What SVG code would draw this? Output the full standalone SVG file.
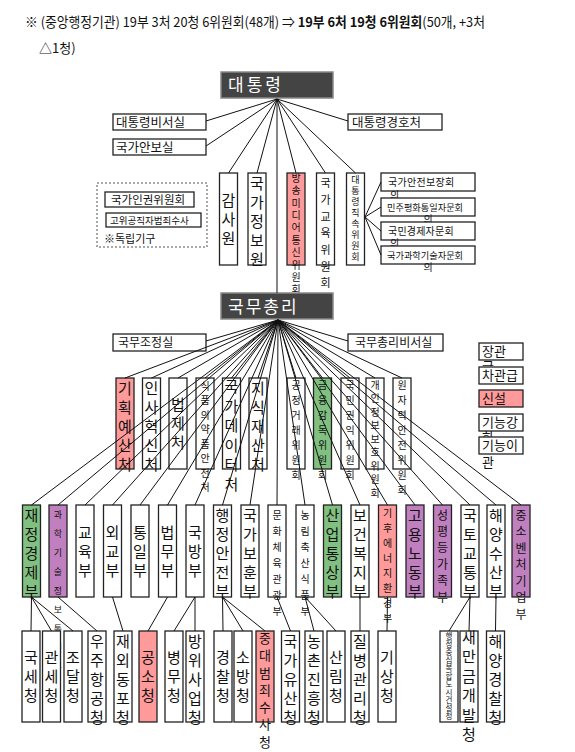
<svg xmlns="http://www.w3.org/2000/svg" width="575" height="752" viewBox="0 0 575 752">
<style>
text{font-family:"Noto Sans CJK KR","Noto Sans",sans-serif;fill:#111}
.b{fill:#fff;stroke:#222;stroke-width:1.3}
.pk{fill:#ff9a9a}
.gr{fill:#80c080}
.pu{fill:#c080c0}
.dk{fill:#444;stroke:#888;stroke-width:1.5}
.w{fill:#fff}
.v{writing-mode:vertical-rl;text-orientation:upright;font-size:15px;letter-spacing:4px}
.c{text-anchor:middle}
.h{font-size:12.5px}
.lg{font-size:13px}
#connectors line{stroke:#111;stroke-width:1}
</style>
<g id="header">
<text x="25" y="27" font-size="13.5" textLength="460" lengthAdjust="spacingAndGlyphs">※ (중앙행정기관) 19부 3처 20청 6위원회(48개) ⇒ <tspan font-weight="bold">19부 6처 19청 6위원회</tspan>(50개, +3처</text>
<text x="39" y="53" font-size="13">△1청)</text>
</g>
<g id="president"><rect class="dk" x="221" y="72" width="112" height="26"/><text class="w" x="228" y="91" font-size="17" letter-spacing="3">대통령</text></g>
<g id="n-bisuh"><rect class="b" x="113" y="114" width="93" height="16"/><text class="h" x="116" y="127">대통령비서실</text></g>
<g id="n-anbo"><rect class="b" x="113" y="139" width="93" height="16"/><text class="h" x="116" y="152">국가안보실</text></g>
<g id="n-gyeongho"><rect class="b" x="348" y="114" width="94" height="16"/><text class="h" x="352" y="127">대통령경호처</text></g>
<g id="n-indep"><rect x="97" y="183" width="110" height="64" fill="none" stroke="#555" stroke-dasharray="2,2"/>
<rect class="b" x="105" y="192" width="89" height="15"/><text x="111" y="204" font-size="11.5">국가인권위원회</text>
<rect class="b" x="106" y="213" width="95" height="14"/><text x="110" y="224" font-size="9.5">고위공직자범죄수사</text>
<text x="104" y="243" font-size="11">※독립기구</text></g>
<g id="n-gamsa"><rect class="b" x="219.5" y="173" width="18" height="92"/><text class="v c" x="228.5" y="221">감사원</text></g>
<g id="n-gukjeong"><rect class="b" x="248" y="173" width="18" height="92"/><text class="v" x="257" y="175.5">국가정보원</text></g>
<g id="n-bangtong"><rect class="b pk" x="287" y="173" width="18" height="92"/><text class="v" x="296" y="173" style="font-size:10px;letter-spacing:2.4px">방송미디어통신위원회</text></g>
<g id="n-gukgyo"><rect class="b" x="316.5" y="173" width="18" height="92"/><text class="v" x="325.5" y="177.5" style="font-size:11px;letter-spacing:5.7px">국가교육위원회</text></g>
<g id="n-direct"><rect class="b" x="346.5" y="173" width="18" height="92"/><text class="v" x="355.5" y="175.5" style="font-size:9px;letter-spacing:2px">대통령직속위원회</text></g>
<g id="n-c1"><rect class="b" x="381" y="173" width="94" height="18"/><text x="388" y="186" font-size="10" letter-spacing="0.3">국가안전보장회</text><text x="390" y="199" font-size="10">의</text></g>
<g id="n-c2"><rect class="b" x="381" y="198" width="94" height="18"/><text x="387" y="211" font-size="9.2">민주평화통일자문회</text><text x="428" y="223" font-size="10" class="c">의</text></g>
<g id="n-c3"><rect class="b" x="381" y="222" width="94" height="18"/><text x="388" y="235" font-size="10" letter-spacing="0.2">국민경제자문회</text><text x="390" y="247" font-size="10">의</text></g>
<g id="n-c4"><rect class="b" x="381" y="246" width="94" height="18"/><text x="387" y="259" font-size="9.2">국가과학기술자문회</text><text x="428" y="271" font-size="10" class="c">의</text></g>
<g id="pm"><rect class="dk" x="221" y="293" width="112" height="26"/><text class="w" x="228" y="313" font-size="17" letter-spacing="2">국무총리</text></g>
<g id="n-josa"><rect class="b" x="113" y="334" width="93" height="17"/><text x="118" y="347" font-size="12">국무조정실</text></g>
<g id="n-pmbisuh"><rect class="b" x="348" y="334" width="95" height="17"/><text x="355" y="347" font-size="12">국무총리비서실</text></g>
<g id="legend">
<rect class="b" x="479" y="343" width="44" height="17"/><text class="lg" x="482" y="356">장관</text><text class="lg" x="482" y="371">급</text>
<rect class="b" x="479" y="367" width="44" height="17"/><text class="lg" x="482" y="380">차관급</text>
<rect class="b pk" x="479" y="390" width="44" height="17"/><text class="lg" x="482" y="403">신설</text>
<rect class="b" x="479" y="414" width="44" height="17"/><text class="lg" x="482" y="427">기능강</text><text class="lg" x="482" y="442">화</text>
<rect class="b" x="479" y="437" width="44" height="17"/><text class="lg" x="482" y="450">기능이</text><text class="lg" x="482" y="467">관</text>
</g>
<g id="row2">
<g id="n-gihoek"><rect class="b pk" x="116" y="378" width="18" height="91"/><text class="v" x="125" y="380.5">기획예산처</text></g>
<g id="n-insa"><rect class="b" x="142.5" y="378" width="18" height="91"/><text class="v" x="151.5" y="380.5">인사혁신처</text></g>
<g id="n-beopje"><rect class="b" x="169" y="378" width="18" height="91"/><text class="v c" x="178" y="425.5">법제처</text></g>
<g id="n-sikyak"><rect class="b" x="196" y="378" width="18" height="91"/><text class="v" x="205" y="381" style="font-size:10px;letter-spacing:4.5px">식품의약품안전처</text></g>
<g id="n-data"><rect class="b" x="222.5" y="378" width="18" height="91"/><text class="v" x="231.5" y="379" style="letter-spacing:4.5px">국가데이터처</text></g>
<g id="n-jisik"><rect class="b" x="249" y="378" width="18" height="91"/><text class="v" x="258" y="380.5">지식재산처</text></g>
<g id="n-gongjeong"><rect class="b" x="287" y="378" width="18" height="91"/><text class="v" x="296" y="380" style="font-size:10px;letter-spacing:5px">공정거래위원회</text></g>
<g id="n-geumgam"><rect class="b gr" x="313.5" y="378" width="18" height="91"/><text class="v" x="322.5" y="380" style="font-size:10px;letter-spacing:5px">금융감독위원회</text></g>
<g id="n-gwonik"><rect class="b" x="341" y="378" width="18" height="91"/><text class="v" x="350" y="380" style="font-size:10px;letter-spacing:5px">국민권익위원회</text></g>
<g id="n-gaein"><rect class="b" x="366" y="378" width="18" height="91"/><text class="v" x="375" y="380" style="font-size:10px;letter-spacing:3.5px">개인정보보호위원회</text></g>
<g id="n-wonan"><rect class="b" x="393" y="378" width="18" height="91"/><text class="v" x="402" y="380" style="font-size:10px;letter-spacing:5px">원자력안전위원회</text></g>
</g>
<g id="row3">
<g id="n-jaegyeong"><rect class="b gr" x="22.5" y="505" width="18" height="92"/><text class="v" x="31.5" y="507.5">재정경제부</text></g>
<g id="n-gwagi"><rect class="b pu" x="49" y="505" width="18" height="92"/><text class="v" x="58" y="510.5" style="font-size:9px;letter-spacing:10px">과학기술정보통신부</text></g>
<g id="n-gyoyuk"><rect class="b" x="76" y="505" width="18" height="92"/><text class="v c" x="85" y="553">교육부</text></g>
<g id="n-oegyo"><rect class="b" x="103.5" y="505" width="18" height="92"/><text class="v c" x="112.5" y="553">외교부</text></g>
<g id="n-tongil"><rect class="b" x="131" y="505" width="18" height="92"/><text class="v c" x="140" y="553">통일부</text></g>
<g id="n-beopmu"><rect class="b" x="158.5" y="505" width="18" height="92"/><text class="v c" x="167.5" y="553">법무부</text></g>
<g id="n-gukbang"><rect class="b" x="186" y="505" width="18" height="92"/><text class="v c" x="195" y="553">국방부</text></g>
<g id="n-haengan"><rect class="b" x="213.5" y="505" width="18" height="92"/><text class="v" x="222.5" y="507.5">행정안전부</text></g>
<g id="n-bohun"><rect class="b" x="241" y="505" width="18" height="92"/><text class="v" x="250" y="507.5">국가보훈부</text></g>
<g id="n-munche"><rect class="b" x="268" y="505" width="18" height="92"/><text class="v" x="277" y="510" style="font-size:10px;letter-spacing:6px">문화체육관광부</text></g>
<g id="n-nongrim"><rect class="b" x="296" y="505" width="18" height="92"/><text class="v" x="305" y="510" style="font-size:10px;letter-spacing:6px">농림축산식품부</text></g>
<g id="n-saneop"><rect class="b gr" x="323.5" y="505" width="18" height="92"/><text class="v" x="332.5" y="507.5">산업통상부</text></g>
<g id="n-bokji"><rect class="b" x="351" y="505" width="18" height="92"/><text class="v" x="360" y="507.5">보건복지부</text></g>
<g id="n-gihu"><rect class="b pk" x="378.5" y="505" width="18" height="92"/><text class="v" x="387.5" y="508" style="font-size:10px;letter-spacing:5px">기후에너지환경부</text></g>
<g id="n-goyong"><rect class="b pu" x="406" y="505" width="18" height="92"/><text class="v" x="415" y="507.5">고용노동부</text></g>
<g id="n-seongpyeong"><rect class="b pu" x="433.5" y="505" width="18" height="92"/><text class="v" x="442.5" y="509" style="font-size:12px;letter-spacing:4.4px">성평등가족부</text></g>
<g id="n-gukto"><rect class="b" x="461" y="505" width="18" height="92"/><text class="v" x="470" y="507.5">국토교통부</text></g>
<g id="n-haesu"><rect class="b" x="487" y="505" width="18" height="92"/><text class="v" x="496" y="507.5">해양수산부</text></g>
<g id="n-jungso"><rect class="b pu" x="512" y="505" width="18" height="92"/><text class="v" x="521" y="509" style="font-size:12px;letter-spacing:4.5px">중소벤처기업부</text></g>
</g>
<g id="row4">
<g id="n-gukse"><rect class="b" x="22" y="631" width="18" height="91"/><text class="v c" x="31" y="678.5">국세청</text></g>
<g id="n-gwanse"><rect class="b" x="42.5" y="631" width="18" height="91"/><text class="v c" x="51.5" y="678.5">관세청</text></g>
<g id="n-jodal"><rect class="b" x="64" y="631" width="18" height="91"/><text class="v c" x="73" y="678.5">조달청</text></g>
<g id="n-ujuhanggong"><rect class="b" x="88" y="631" width="18" height="91"/><text class="v" x="97" y="633.5">우주항공청</text></g>
<g id="n-jaeoe"><rect class="b" x="114" y="631" width="18" height="91"/><text class="v" x="123" y="633.5">재외동포청</text></g>
<g id="n-gongso"><rect class="b pk" x="139" y="631" width="18" height="91"/><text class="v c" x="148" y="678.5">공소청</text></g>
<g id="n-byeongmu"><rect class="b" x="165" y="631" width="18" height="91"/><text class="v c" x="174" y="678.5">병무청</text></g>
<g id="n-bangwi"><rect class="b" x="186" y="631" width="18" height="91"/><text class="v" x="195" y="633.5">방위사업청</text></g>
<g id="n-gyeongchal"><rect class="b" x="214" y="631" width="18" height="91"/><text class="v c" x="223" y="678.5">경찰청</text></g>
<g id="n-sobang"><rect class="b" x="234" y="631" width="18" height="91"/><text class="v c" x="243" y="678.5">소방청</text></g>
<g id="n-jungdae"><rect class="b pk" x="256" y="631" width="18" height="91"/><text class="v" x="265" y="631.5" style="font-size:13px;letter-spacing:4.3px">중대범죄수사청</text></g>
<g id="n-yusan"><rect class="b" x="281.5" y="631" width="18" height="91"/><text class="v" x="290.5" y="633.5">국가유산청</text></g>
<g id="n-nongchon"><rect class="b" x="305" y="631" width="18" height="91"/><text class="v" x="314" y="633.5">농촌진흥청</text></g>
<g id="n-sanrim"><rect class="b" x="327" y="631" width="18" height="91"/><text class="v c" x="336" y="678.5">산림청</text></g>
<g id="n-jilbyeong"><rect class="b" x="351" y="631" width="18" height="91"/><text class="v" x="360" y="633.5">질병관리청</text></g>
<g id="n-gisang"><rect class="b" x="378" y="631" width="18" height="91"/><text class="v c" x="387" y="678.5">기상청</text></g>
<g id="n-haengbok"><rect class="b" x="440" y="631" width="18" height="91"/><text class="v" x="449" y="632" style="font-size:7.5px;letter-spacing:0.5px">행정중심복합도시건설청</text></g>
<g id="n-saemangeum"><rect class="b" x="460" y="631" width="18" height="91"/><text class="v" x="469" y="629.5" style="letter-spacing:4.5px">새만금개발청</text></g>
<g id="n-haegyeong"><rect class="b" x="486.5" y="631" width="18" height="91"/><text class="v" x="495.5" y="633.5">해양경찰청</text></g>
</g>
<g id="connectors">
<line x1="277" y1="99" x2="277" y2="293"/>
<line x1="277" y1="99" x2="206" y2="121"/>
<line x1="277" y1="99" x2="206" y2="146"/>
<line x1="277" y1="99" x2="348" y2="121"/>
<line x1="277" y1="99" x2="228.5" y2="173"/>
<line x1="277" y1="99" x2="257" y2="173"/>
<line x1="277" y1="99" x2="296" y2="173"/>
<line x1="277" y1="99" x2="325.5" y2="173"/>
<line x1="277" y1="99" x2="355.5" y2="173"/>
<line x1="365" y1="217" x2="381" y2="182"/>
<line x1="365" y1="217" x2="381" y2="207"/>
<line x1="365" y1="217" x2="381" y2="231"/>
<line x1="365" y1="217" x2="381" y2="255"/>
<line x1="278" y1="320" x2="206" y2="341"/>
<line x1="278" y1="320" x2="348" y2="341"/>
<line x1="278" y1="320" x2="125" y2="378"/>
<line x1="278" y1="320" x2="151.5" y2="378"/>
<line x1="278" y1="320" x2="178" y2="378"/>
<line x1="278" y1="320" x2="205" y2="378"/>
<line x1="278" y1="320" x2="231.5" y2="378"/>
<line x1="278" y1="320" x2="258" y2="378"/>
<line x1="278" y1="320" x2="296" y2="378"/>
<line x1="278" y1="320" x2="322.5" y2="378"/>
<line x1="278" y1="320" x2="350" y2="378"/>
<line x1="278" y1="320" x2="375" y2="378"/>
<line x1="278" y1="320" x2="402" y2="378"/>
<line x1="278" y1="320" x2="31.5" y2="505"/>
<line x1="278" y1="320" x2="58" y2="505"/>
<line x1="278" y1="320" x2="85" y2="505"/>
<line x1="278" y1="320" x2="112.5" y2="505"/>
<line x1="278" y1="320" x2="140" y2="505"/>
<line x1="278" y1="320" x2="167.5" y2="505"/>
<line x1="278" y1="320" x2="195" y2="505"/>
<line x1="278" y1="320" x2="222.5" y2="505"/>
<line x1="278" y1="320" x2="250" y2="505"/>
<line x1="278" y1="320" x2="277" y2="505"/>
<line x1="278" y1="320" x2="305" y2="505"/>
<line x1="278" y1="320" x2="332.5" y2="505"/>
<line x1="278" y1="320" x2="360" y2="505"/>
<line x1="278" y1="320" x2="387.5" y2="505"/>
<line x1="278" y1="320" x2="415" y2="505"/>
<line x1="278" y1="320" x2="442.5" y2="505"/>
<line x1="278" y1="320" x2="470" y2="505"/>
<line x1="278" y1="320" x2="496" y2="505"/>
<line x1="278" y1="320" x2="521" y2="505"/>
<line x1="31.5" y1="597" x2="31" y2="631"/>
<line x1="31.5" y1="597" x2="51.5" y2="631"/>
<line x1="31.5" y1="597" x2="73" y2="631"/>
<line x1="58" y1="597" x2="97" y2="631"/>
<line x1="112.5" y1="597" x2="123" y2="631"/>
<line x1="167.5" y1="597" x2="148" y2="631"/>
<line x1="195" y1="597" x2="174" y2="631"/>
<line x1="195" y1="597" x2="195" y2="631"/>
<line x1="222.5" y1="597" x2="223" y2="631"/>
<line x1="222.5" y1="597" x2="243" y2="631"/>
<line x1="222.5" y1="597" x2="265" y2="631"/>
<line x1="277" y1="597" x2="290.5" y2="631"/>
<line x1="305" y1="597" x2="314" y2="631"/>
<line x1="305" y1="597" x2="336" y2="631"/>
<line x1="360" y1="597" x2="360" y2="631"/>
<line x1="387.5" y1="597" x2="387" y2="631"/>
<line x1="470" y1="597" x2="449" y2="631"/>
<line x1="470" y1="597" x2="469" y2="631"/>
<line x1="496" y1="597" x2="495.5" y2="631"/>
</g>
</svg>
